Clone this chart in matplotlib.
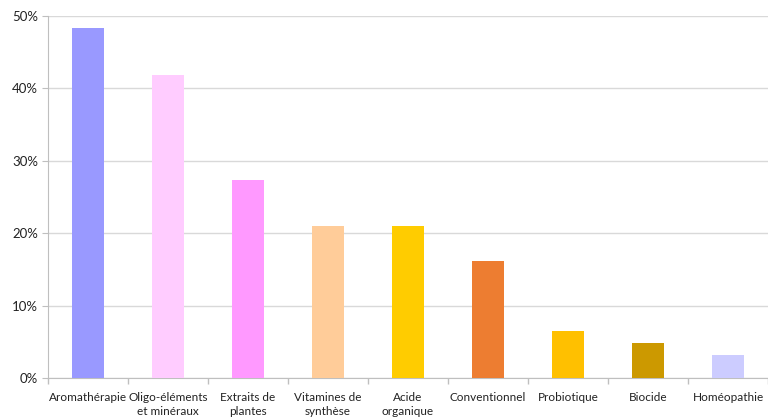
import matplotlib
matplotlib.use("Agg")
import matplotlib.pyplot as plt
from matplotlib.ticker import FuncFormatter, FixedLocator

categories = ["Aromathérapie", "Oligo-éléments\net minéraux", "Extraits de\nplantes",
              "Vitamines de\nsynthèse", "Acide\norganique", "Conventionnel",
              "Probiotique", "Biocide", "Homéopathie"]
values = [48.4, 41.9, 27.4, 21.0, 21.0, 16.1, 6.5, 4.8, 3.2]
colors = ["#9999FF", "#FFCCFF", "#FF99FF", "#FFCC99", "#FFCC00",
          "#ED7D31", "#FFC000", "#CC9900", "#CCCCFF"]
yticks = [0, 10, 20, 30, 40, 50]

plt.rcParams['font.family'] = ['Lato', 'DejaVu Sans']

fig = plt.figure(figsize=(7.68, 4.19), dpi=100)
ax = fig.add_axes([48/768, 41/419, 720/768, 362/419])

x = list(range(len(categories)))
ax.bar(x, values, width=0.4, color=colors, zorder=3)

ax.set_xlim(-0.5, len(categories) - 0.5)
ax.set_ylim(0, 50)
ax.set_yticks(yticks)
ax.yaxis.set_major_formatter(FuncFormatter(lambda v, p: f"{int(v)}%"))
ax.grid(axis='y', color='#D9D9D9', linewidth=1, zorder=0)

ax.set_xticks(x)
ax.set_xticklabels(categories, fontsize=8.5, color='#222222', linespacing=1.3)
ax.tick_params(axis='x', length=0, pad=10)
ax.xaxis.set_minor_locator(FixedLocator([i - 0.5 for i in range(len(categories) + 1)]))
ax.tick_params(axis='x', which='minor', length=4, color='#BFBFBF', width=1)
ax.tick_params(axis='y', length=4, color='#BFBFBF', labelsize=9.5, labelcolor='#222222', pad=3)

for s in ['top', 'right']:
    ax.spines[s].set_visible(False)
for s in ['left', 'bottom']:
    ax.spines[s].set_color('#BFBFBF')

fig.savefig("out.png", dpi=100)
